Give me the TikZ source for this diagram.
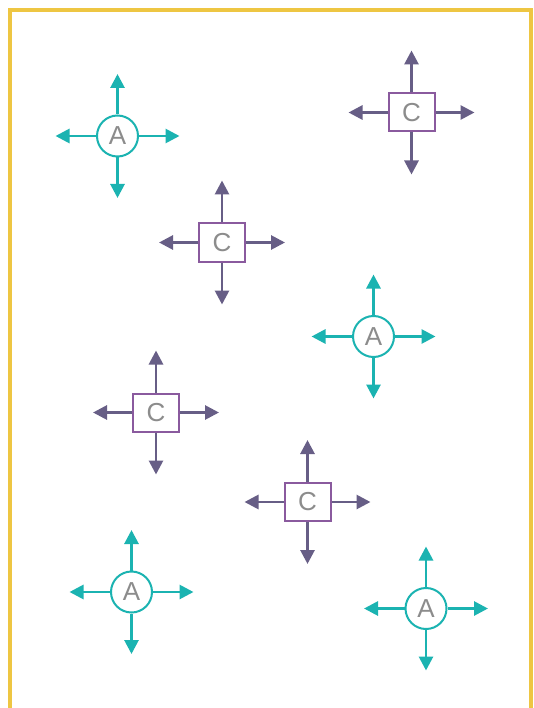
\documentclass[tikz,border=0pt]{standalone}
\usepackage{fontspec}
\setmainfont{Liberation Sans}
\usetikzlibrary{arrows.meta}
\definecolor{teal1}{HTML}{1BB3B1}
\definecolor{purparrow}{HTML}{675E86}
\definecolor{purpbox}{HTML}{8A5A9E}
\definecolor{txtgray}{HTML}{8C8C8C}
\definecolor{frameyellow}{HTML}{EEC643}
\tikzset{
  anode/.style={circle, draw=teal1, line width=2pt, minimum size=41pt, inner sep=0pt,
    text=txtgray, font=\fontsize{26}{26}\selectfont},
  cnode/.style={rectangle, draw=purpbox, line width=2pt, minimum width=46pt, minimum height=38pt, inner sep=0pt,
    text=txtgray, font=\fontsize{26}{26}\selectfont},
  tarrow/.style={draw=teal1, line width=2.8pt, -{Triangle[length=14pt,width=14pt]}, fill=teal1},
  parrow/.style={draw=purparrow, line width=2.8pt, -{Triangle[length=14pt,width=14pt]}, fill=purparrow},
  frame/.style={draw=frameyellow, line width=4pt}
}
\begin{document}
\begin{tikzpicture}[x=1pt,y=-1pt]
\useasboundingbox (0,0) rectangle (533,708);
\fill[white] (0,0) rectangle (533,708);
\draw[frame] (10,708) -- (10,10) -- (533,10);
\draw[frame] (531,10) -- (531,708);
\foreach \n/\x/\y in {a1/117.5/136, a2/373.5/336.5, a3/131.5/592, a4/426/608.5} {
  \node[anode] (\n) at (\x,\y) {A};
  \coordinate (\n N) at (\x,\y-62);
  \coordinate (\n S) at (\x,\y+62);
  \coordinate (\n W) at (\x-62,\y);
  \coordinate (\n E) at (\x+62,\y);
  \draw[tarrow] (\n) -- (\n N);
  \draw[tarrow] (\n) -- (\n S);
  \draw[tarrow] (\n) -- (\n W);
  \draw[tarrow] (\n) -- (\n E);
}
\foreach \n/\x/\y in {c1/411.5/112.5, c2/222/242.5, c3/156/412.5, c4/307.5/502} {
  \node[cnode] (\n) at (\x,\y) {C};
  \coordinate (\n N) at (\x,\y-62);
  \coordinate (\n S) at (\x,\y+62);
  \coordinate (\n W) at (\x-63,\y);
  \coordinate (\n E) at (\x+63,\y);
  \draw[parrow] (\n) -- (\n N);
  \draw[parrow] (\n) -- (\n S);
  \draw[parrow] (\n) -- (\n W);
  \draw[parrow] (\n) -- (\n E);
}
\end{tikzpicture}
\end{document}
